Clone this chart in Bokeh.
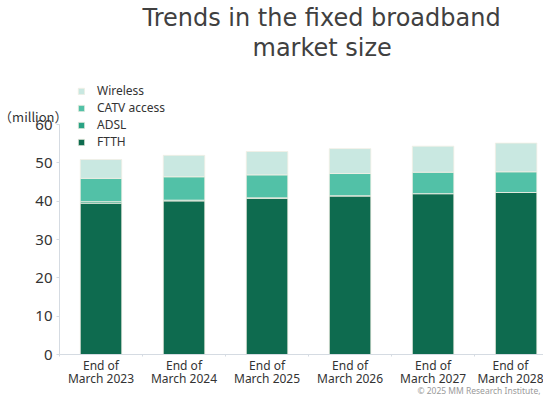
from bokeh.plotting import figure
from bokeh.models import (Range1d, FixedTicker, Legend, LegendItem, Label, Title,
                          ColumnDataSource)
from bokeh.embed import file_html
from bokeh.resources import INLINE

# ---- data (million subscriptions) ----
periods = ["End of\nMarch 2023", "End of\nMarch 2024", "End of\nMarch 2025",
           "End of\nMarch 2026", "End of\nMarch 2027", "End of\nMarch 2028"]
ftth = [39.5, 40.1, 40.8, 41.4, 42.0, 42.3]
adsl = [0.4, 0.2, 0.1, 0.05, 0.0, 0.0]
catv = [6.1, 6.1, 6.0, 5.8, 5.6, 5.4]
wireless = [4.9, 5.6, 6.1, 6.5, 6.8, 7.5]
series = ["FTTH", "ADSL", "CATV access", "Wireless"]
colors = ["#0e6b4f", "#2aa384", "#52c1a7", "#c9e8e1"]
y_ticks = [0, 10, 20, 30, 40, 50, 60]

x = list(range(len(periods)))
src = ColumnDataSource(dict(x=x, FTTH=ftth, ADSL=adsl, CATV=catv, Wireless=wireless))
keys = ["FTTH", "ADSL", "CATV", "Wireless"]

p = figure(width=543, height=401, output_backend="svg", toolbar_location=None,
           x_range=Range1d(-0.5, 5.33), y_range=Range1d(0, 71.8),
           min_border_left=59, min_border_right=0, min_border_top=70,
           min_border_bottom=44, title="Trends in the fixed broadband")
p.outline_line_color = None
p.xgrid.visible = False
p.ygrid.visible = False
p.background_fill_color = "white"
p.border_fill_color = "white"

# unit label (top panel) and footer (bottom panel): side panels are not clipped
p.add_layout(Label(x=-0.5, y=60, text="（million）", text_align="right",
                   text_baseline="middle", x_offset=8, y_offset=8,
                   text_font="Noto Sans CJK JP", text_font_size="13px",
                   text_color="#333333"), "above")

# titles
p.title.text_font = "DejaVu Sans"
p.title.text_font_size = "24px"
p.title.text_font_style = "normal"
p.title.text_color = "#404040"
p.title.align = "left"
p.title.offset = 83
p.title.standoff = 2
t2 = Title(text="market size", text_font="DejaVu Sans", text_font_size="24px",
           text_font_style="normal", text_color="#404040", align="left",
           offset=193, standoff=-2)
p.add_layout(t2, "above")

rs = p.vbar_stack(keys, x="x", width=0.5, source=src, fill_color=colors,
                  line_color="#f3efe4", line_width=0.8)

# legend (reversed order)
items = [LegendItem(label=series[i], renderers=[rs[i]]) for i in range(3, -1, -1)]
leg = Legend(items=items, location=(18, 204), padding=0, margin=0, spacing=0,
             glyph_width=8, glyph_height=8, label_height=17, label_standoff=12,
             label_text_font="Noto Sans", label_text_font_size="12px",
             label_text_color="#333333", border_line_color=None,
             background_fill_color="white", background_fill_alpha=1)
p.add_layout(leg, "center")

axis_col = "#d5dbe2"
# y axis
p.yaxis.ticker = FixedTicker(ticks=y_ticks)
p.yaxis.bounds = (0, 60)
p.yaxis.major_label_text_font = "Noto Sans"
p.yaxis.major_label_text_font_size = "15px"
p.yaxis.major_label_text_color = "#333333"
p.yaxis.axis_line_color = axis_col
p.yaxis.major_tick_line_color = axis_col
p.yaxis.major_tick_out = 3
p.yaxis.major_tick_in = 0
p.yaxis.minor_tick_line_color = None
p.yaxis.major_label_standoff = 4

# x axis
p.xaxis.ticker = FixedTicker(ticks=x, minor_ticks=[i - 0.5 for i in range(len(x) + 1)])
p.xaxis.major_label_overrides = {i: periods[i] for i in x}
p.xaxis.major_label_text_font = "Noto Sans"
p.xaxis.major_label_text_font_size = "12px"
p.xaxis.major_label_text_color = "#333333"
p.xaxis.major_label_text_line_height = 0.8
p.xaxis.axis_line_color = axis_col
p.xaxis.major_tick_line_color = None
p.xaxis.major_tick_out = 0
p.xaxis.minor_tick_line_color = axis_col
p.xaxis.minor_tick_out = 2
p.xaxis.minor_tick_in = 0
p.xaxis.major_label_standoff = 0

# footer
p.add_layout(Label(x=5.33, y=0, text="© 2025 MM Research Institute,", text_align="right",
                   text_baseline="middle", x_offset=-3, y_offset=-36,
                   text_font="Noto Sans", text_font_size="8.5px",
                   text_color="#9a9a9a"), "below")

open("out.html", "w").write(file_html(p, INLINE))
